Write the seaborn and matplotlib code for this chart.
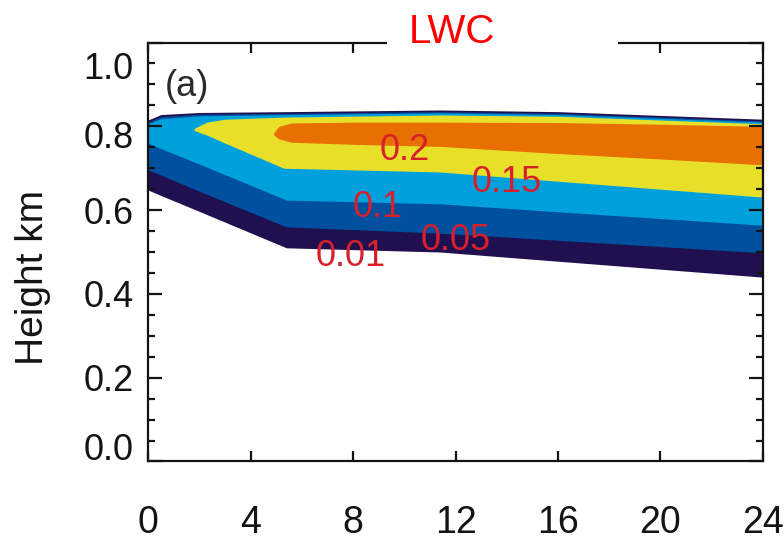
import matplotlib
matplotlib.use("Agg")
import matplotlib.pyplot as plt
from matplotlib.patches import Rectangle
from matplotlib.transforms import ScaledTranslation
from matplotlib.ticker import MultipleLocator
import seaborn as sns

# LWC contour levels (g/m3) and their fill colours
levels = [0.01, 0.05, 0.1, 0.15, 0.2]
level_colors = ["#201050", "#0050a0", "#00a0dc", "#e8e028", "#e87000"]

# Extent of the region where LWC >= level: time (h), top and bottom height (km)
t_001 = [0.0, 0.5, 2.0, 5.4, 11.4, 16.0, 20.0, 24.0]
top_001 = [0.815, 0.828, 0.833, 0.835, 0.839, 0.835, 0.826, 0.817]
bot_001 = [0.648, 0.635, 0.597, 0.510, 0.500, 0.478, 0.459, 0.440]

t_005 = [0.0, 0.5, 2.0, 5.4, 11.4, 16.0, 20.0, 24.0]
top_005 = [0.810, 0.823, 0.829, 0.831, 0.835, 0.831, 0.822, 0.813]
bot_005 = [0.696, 0.684, 0.645, 0.560, 0.545, 0.528, 0.513, 0.498]

t_010 = [0.0, 0.5, 2.0, 5.4, 11.4, 16.0, 20.0, 24.0]
top_010 = [0.806, 0.818, 0.825, 0.828, 0.832, 0.828, 0.819, 0.810]
bot_010 = [0.760, 0.747, 0.710, 0.624, 0.615, 0.596, 0.580, 0.564]

t_015 = [1.8, 2.3, 3.0, 5.3, 11.4, 16.0, 20.0, 24.0]
top_015 = [0.795, 0.810, 0.817, 0.822, 0.827, 0.824, 0.815, 0.806]
bot_015 = [0.790, 0.779, 0.760, 0.700, 0.691, 0.669, 0.650, 0.631]

t_020 = [4.9, 5.1, 5.6, 8.0, 11.4, 16.0, 20.0, 24.0]
top_020 = [0.784, 0.800, 0.808, 0.810, 0.810, 0.809, 0.805, 0.800]
bot_020 = [0.780, 0.770, 0.762, 0.757, 0.752, 0.735, 0.722, 0.708]

x_ticks = [0, 4, 8, 12, 16, 20, 24]
y_ticks = [0.0, 0.2, 0.4, 0.6, 0.8, 1.0]
y_ticklabels = ["0.0", "0.2", "0.4", "0.6", "0.8", "1.0"]

sns.set_style("ticks")
plt.rcParams["font.family"] = ["Liberation Sans", "DejaVu Sans"]

fig = plt.figure(figsize=(7.84, 5.43), dpi=100)
ax = fig.add_axes([0.1888, 0.1501, 0.7844, 0.7716])
ax.set_axisbelow(False)

bands = [
    (t_001, top_001, bot_001),
    (t_005, top_005, bot_005),
    (t_010, top_010, bot_010),
    (t_015, top_015, bot_015),
    (t_020, top_020, bot_020),
]
palette = sns.color_palette(level_colors)
for (t, top, bot), col in zip(bands, palette):
    ax.fill_between(t, bot, top, color=col, linewidth=0, zorder=1)

# contour labels (time, height) for each level
label_pos = [(7.9, 0.498), (12.0, 0.538), (8.95, 0.615), (14.0, 0.675), (10.0, 0.753)]
for lev, (tx, hy) in zip(levels, label_pos):
    ax.text(tx, hy, f"{lev:g}", color="#d8202c", fontsize=26,
            ha="center", va="center_baseline", zorder=4)

ax.set_xlim(0, 24)
ax.set_ylim(0, 1.0)
ax.set_xticks(x_ticks)
ax.set_xticklabels([str(v) for v in x_ticks])
ax.set_yticks(y_ticks)
ax.set_yticklabels(y_ticklabels)
ax.yaxis.set_minor_locator(MultipleLocator(0.05))

ink = "#141414"
for sp in ax.spines.values():
    sp.set_linewidth(1.6)
    sp.set_color(ink)
    sp.set_visible(True)
ax.tick_params(which="both", direction="in", top=True, right=True,
               width=1.6, color=ink, labelcolor=ink)
ax.tick_params(axis="x", which="major", length=7.5, pad=31, labelsize=27)
ax.tick_params(axis="y", which="major", length=10, pad=10.5, labelsize=26)
ax.tick_params(axis="y", which="minor", length=5)

# nudge the end labels of the height axis
shifts = {"1.0": -22.5, "0.8": -8.0, "0.0": 15.0}
for lbl in ax.get_yticklabels():
    dy = shifts.get(lbl.get_text())
    if dy:
        lbl.set_transform(lbl.get_transform()
                          + ScaledTranslation(0, dy / 100.0, fig.dpi_scale_trans))

ax.set_ylabel("Height km", fontsize=28, color=ink)
ax.yaxis.set_label_coords(-0.158, 0.44)

ax.text(0.027, 0.894, "(a)", transform=ax.transAxes, fontsize=26,
        ha="left", va="center", color="#2a2a2a")

# title sits in a gap of the top frame
ax.add_patch(Rectangle((0.389, 0.975), 0.375, 0.08, transform=ax.transAxes,
                       facecolor="white", edgecolor="none", zorder=3, clip_on=False))
ax.text(0.494, 1.0, "LWC", transform=ax.transAxes, fontsize=29, color="red",
        ha="center", va="baseline", zorder=4)

fig.savefig("out.png", dpi=100)
